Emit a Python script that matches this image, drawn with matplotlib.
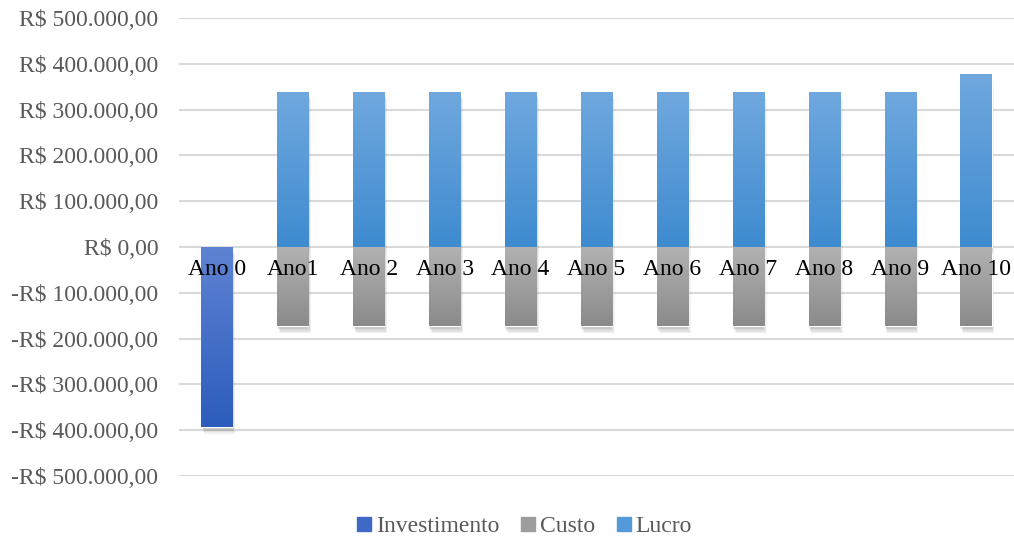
import numpy as np
import matplotlib
matplotlib.use("Agg")
import matplotlib.pyplot as plt
import matplotlib.patheffects as pe
from matplotlib.colors import LinearSegmentedColormap
from matplotlib.lines import Line2D

plt.rcParams['font.family'] = ['Liberation Serif', 'DejaVu Serif']

anos = ["Ano 0", "Ano1", "Ano 2", "Ano 3", "Ano 4", "Ano 5",
        "Ano 6", "Ano 7", "Ano 8", "Ano 9", "Ano 10"]
investimento = [-392000, 0, 0, 0, 0, 0, 0, 0, 0, 0, 0]
custo = [0, -173000, -173000, -173000, -173000, -173000,
         -173000, -173000, -173000, -173000, -173000]
lucro = [0, 338000, 338000, 338000, 338000, 338000,
         338000, 338000, 338000, 338000, 378000]
yticks = np.arange(-500000, 500001, 100000)

# (top colour, bottom colour) for each series
grad_inv = ("#5f83d3", "#2c5cbc")
grad_custo = ("#b2b2b2", "#8a8a8a")
grad_lucro = ("#70a8de", "#3e8bd0")
text_gray = "#595959"


def fmt_real(v):
    s = f"{abs(v):,.2f}".replace(",", "X").replace(".", ",").replace("X", ".")
    return ("-R$ " if v < 0 else "R$ ") + s


def gradient_bars(ax, x, vals, colors, width):
    bars = ax.bar(x, vals, width=width, color=colors[1], edgecolor="white",
                  linewidth=1.0, zorder=2)
    cmap = LinearSegmentedColormap.from_list("g", [colors[1], colors[0]])
    grad = np.linspace(0, 1, 256).reshape(-1, 1)
    # soft drop shadow: a few faint offset copies
    shadow = [pe.SimplePatchShadow(offset=(dx, dy), alpha=0.07,
                                   shadow_rgbFace="#333333")
              for dx, dy in [(0, -1), (0, -2), (1, -3), (1, -4), (2, -5)]]
    for b in bars:
        h = b.get_height()
        if h == 0:
            b.set_visible(False)
            continue
        b.set_path_effects(shadow + [pe.Normal()])
        x0, y0 = b.get_x(), b.get_y()
        y_lo, y_hi = min(y0, y0 + h), max(y0, y0 + h)
        im = ax.imshow(grad, extent=(x0, x0 + b.get_width(), y_lo, y_hi),
                       origin="lower", cmap=cmap, aspect="auto", zorder=2.5,
                       interpolation="bilinear")
        im.set_clip_path(b)
    return bars


fig = plt.figure(figsize=(10.14, 5.41), dpi=100)
ax = fig.add_axes([0.1765, 0.1201, 0.8235, 0.8466])

x = np.arange(len(anos))
w = 0.41
gradient_bars(ax, x, investimento, grad_inv, w)
gradient_bars(ax, x, custo, grad_custo, w)
gradient_bars(ax, x, lucro, grad_lucro, w)

ax.set_xlim(-0.5, len(anos) - 0.5)
ax.set_ylim(-500000, 500000)
ax.set_yticks(yticks)
ax.set_yticklabels([fmt_real(v) for v in yticks], fontsize=17, color=text_gray)
ax.tick_params(axis="y", length=0, pad=15)
ax.set_xticks([])
ax.grid(axis="y", color="#d9d9d9", linewidth=1.5, zorder=0)
ax.set_axisbelow(True)
for s in ax.spines.values():
    s.set_visible(False)

# category names sit next to the zero line
for i, a in enumerate(anos):
    ax.text(i, -48000, a, ha="center", va="center", fontsize=17,
            color="black", zorder=5)

handles = [Line2D([], [], marker="s", linestyle="", markersize=10,
                  markerfacecolor=c, markeredgecolor=c)
           for c in ("#3f69c6", "#9d9d9d", "#5499d8")]
fig.legend(handles, ["Investimento", "Custo", "Lucro"], loc="center",
           bbox_to_anchor=(0.515, 0.027), ncol=3, frameon=False,
           fontsize=17, labelcolor=text_gray, handletextpad=0.0,
           columnspacing=0.72, handlelength=1.0)

fig.savefig("out.png", dpi=100)
